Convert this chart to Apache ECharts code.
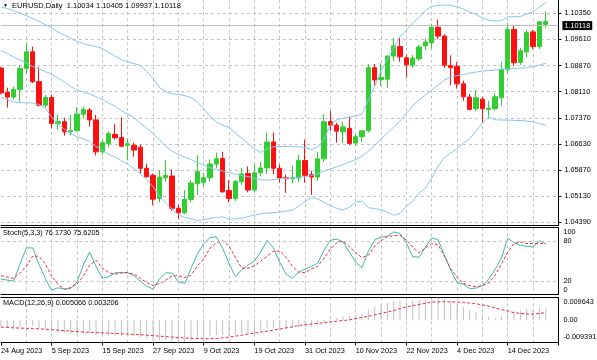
<!DOCTYPE html>
<html><head><meta charset="utf-8">
<script src="https://cdn.jsdelivr.net/npm/echarts@6/dist/echarts.min.js"></script>
<style>html,body{margin:0;padding:0;background:#fff}#c{width:597px;height:360px}</style>
</head><body><div id="c"></div>
<script>
const dates = ['24 Aug 2023','25 Aug 2023','28 Aug 2023','29 Aug 2023','30 Aug 2023','31 Aug 2023',
'1 Sep 2023','4 Sep 2023','5 Sep 2023','6 Sep 2023','7 Sep 2023','8 Sep 2023','11 Sep 2023','12 Sep 2023','13 Sep 2023','14 Sep 2023','15 Sep 2023','18 Sep 2023','19 Sep 2023','20 Sep 2023','21 Sep 2023','22 Sep 2023','25 Sep 2023','26 Sep 2023','27 Sep 2023','28 Sep 2023','29 Sep 2023',
'2 Oct 2023','3 Oct 2023','4 Oct 2023','5 Oct 2023','6 Oct 2023','9 Oct 2023','10 Oct 2023','11 Oct 2023','12 Oct 2023','13 Oct 2023','16 Oct 2023','17 Oct 2023','18 Oct 2023','19 Oct 2023','20 Oct 2023','23 Oct 2023','24 Oct 2023','25 Oct 2023','26 Oct 2023','27 Oct 2023','30 Oct 2023','31 Oct 2023',
'1 Nov 2023','2 Nov 2023','3 Nov 2023','6 Nov 2023','7 Nov 2023','8 Nov 2023','9 Nov 2023','10 Nov 2023','13 Nov 2023','14 Nov 2023','15 Nov 2023','16 Nov 2023','17 Nov 2023','20 Nov 2023','21 Nov 2023','22 Nov 2023','23 Nov 2023','24 Nov 2023','27 Nov 2023','28 Nov 2023','29 Nov 2023','30 Nov 2023',
'1 Dec 2023','4 Dec 2023','5 Dec 2023','6 Dec 2023','7 Dec 2023','8 Dec 2023','11 Dec 2023','12 Dec 2023','13 Dec 2023','14 Dec 2023','15 Dec 2023','18 Dec 2023','19 Dec 2023','20 Dec 2023','21 Dec 2023','22 Dec 2023'];

const open = [1.0879,1.0810,1.0796,1.0818,1.0878,1.0925,1.0840,1.0773,1.0795,1.0721,
1.0726,1.0697,1.0700,1.0747,1.0759,1.0731,1.0640,1.0663,1.0690,1.0681,
1.0659,1.0659,1.0653,1.0593,1.0573,1.0507,1.0566,1.0571,1.0479,1.0466,
1.0504,1.0549,1.0553,1.0566,1.0605,1.0621,1.0530,1.0507,1.0555,1.0578,
1.0531,1.0580,1.0594,1.0668,1.0593,1.0566,1.0563,1.0565,1.0615,1.0575,
1.0568,1.0620,1.0726,1.0716,1.0697,1.0707,1.0665,1.0683,1.0700,1.0880,
1.0846,1.0847,1.0913,1.0940,1.0908,1.0887,1.0905,1.0942,1.0951,1.0995,
1.0970,1.0886,1.0884,1.0834,1.0796,1.0763,1.0790,1.0761,1.0763,1.0794,
1.0875,1.0989,1.0895,1.0925,1.0982,1.0940,1.10034];
const high = [1.0882,1.0823,1.0826,1.0886,1.0951,1.0940,1.0882,1.0802,1.0803,1.0747,
1.0737,1.0745,1.0768,1.0769,1.0765,1.0745,1.0673,1.0698,1.0719,1.0738,
1.0678,1.0666,1.0660,1.0606,1.0578,1.0588,1.0616,1.0590,1.0489,1.0531,
1.0559,1.0630,1.0580,1.0618,1.0637,1.0640,1.0559,1.0560,1.0594,1.0598,
1.0606,1.0612,1.0695,1.0695,1.0604,1.0575,1.0600,1.0631,1.0675,1.0586,
1.0640,1.0748,1.0756,1.0723,1.0726,1.0740,1.0690,1.0702,1.0890,1.0891,
1.0893,1.0916,1.0965,1.0965,1.0916,1.0916,1.0945,1.0963,1.1005,1.1017,
1.0975,1.0915,1.0896,1.0843,1.0805,1.0816,1.0797,1.0785,1.0806,1.0896,
1.1008,1.1002,1.0937,1.0987,1.0988,1.1013,1.10405];
const low = [1.0804,1.0766,1.0790,1.0783,1.0862,1.0836,1.0769,1.0768,1.0707,1.0703,
1.0686,1.0687,1.0698,1.0735,1.0712,1.0630,1.0632,1.0653,1.0675,1.0653,
1.0616,1.0626,1.0578,1.0566,1.0488,1.0496,1.0555,1.0472,1.0448,1.0462,
1.0496,1.0517,1.0540,1.0555,1.0593,1.0523,1.0495,1.0500,1.0545,1.0524,
1.0525,1.0570,1.0577,1.0576,1.0553,1.0523,1.0550,1.0553,1.0552,1.0517,
1.0557,1.0611,1.0700,1.0666,1.0664,1.0659,1.0657,1.0669,1.0695,1.0827,
1.0828,1.0822,1.0898,1.0897,1.0852,1.0880,1.0900,1.0930,1.0935,1.0961,
1.0879,1.0830,1.0820,1.0786,1.0758,1.0756,1.0723,1.0737,1.0758,1.0772,
1.0863,1.0886,1.0888,1.0909,1.0933,1.0933,1.09937];
const close = [1.0808,1.0796,1.0818,1.0878,1.0925,1.0840,1.0773,1.0795,1.0721,1.0726,
1.0697,1.0700,1.0748,1.0761,1.0731,1.0640,1.0666,1.0692,1.0680,1.0656,
1.0663,1.0645,1.0593,1.0569,1.0505,1.0568,1.0573,1.0479,1.0466,1.0505,
1.0551,1.0583,1.0566,1.0605,1.0620,1.0526,1.0507,1.0555,1.0577,1.0531,
1.0580,1.0594,1.0668,1.0593,1.0565,1.0563,1.0566,1.0615,1.0573,1.0568,
1.0620,1.0726,1.0716,1.0699,1.0711,1.0664,1.0683,1.0700,1.0880,1.0845,
1.0852,1.0913,1.0942,1.0911,1.0888,1.0907,1.0939,1.0953,1.0995,1.0970,
1.0887,1.0880,1.0834,1.0797,1.0761,1.0794,1.0763,1.0764,1.0797,1.0875,
1.0989,1.0894,1.0928,1.0980,1.0940,1.1011,1.10118];

const bbUpper = [1.10533,1.10487,1.10425,1.10359,1.10279,1.10202,1.10116,1.10031,1.09931,1.09817,
1.09731,1.09637,1.09546,1.09489,1.09437,1.09403,1.09346,1.09232,1.09132,1.09032,
1.08961,1.08918,1.08861,1.08689,1.08490,1.08233,1.08119,1.08056,1.08033,1.08004,
1.07947,1.07819,1.07628,1.07419,1.07248,1.07162,1.07091,1.06934,1.06791,1.06635,
1.06492,1.06378,1.06492,1.06543,1.06555,1.06549,1.06549,1.06543,1.06520,1.06463,
1.06535,1.06763,1.07162,1.07319,1.07354,1.07391,1.07419,1.07476,1.07876,1.08276,
1.08704,1.09046,1.09360,1.09688,1.09874,1.10074,1.10231,1.10430,1.10550,1.10573,
1.10587,1.10582,1.10530,1.10473,1.10388,1.10316,1.10216,1.10151,1.10131,1.10139,
1.10253,1.10253,1.10253,1.10330,1.10396,1.10530,1.10653];
const bbMiddle = [1.09289,1.09203,1.09103,1.09018,1.08932,1.08832,1.08761,1.08689,1.08618,1.08504,
1.08390,1.08261,1.08161,1.08104,1.08047,1.07976,1.07890,1.07790,1.07705,1.07576,
1.07476,1.07377,1.07211,1.07080,1.06920,1.06749,1.06563,1.06420,1.06321,1.06249,
1.06178,1.06092,1.06021,1.05950,1.05892,1.05850,1.05807,1.05764,1.05721,1.05693,
1.05650,1.05607,1.05593,1.05607,1.05636,1.05641,1.05650,1.05670,1.05693,1.05721,
1.05778,1.05850,1.05907,1.05972,1.06035,1.06107,1.06178,1.06278,1.06420,1.06577,
1.06763,1.06934,1.07105,1.07277,1.07505,1.07705,1.07876,1.08019,1.08161,1.08304,
1.08447,1.08532,1.08575,1.08604,1.08647,1.08675,1.08704,1.08718,1.08732,1.08752,
1.08775,1.08781,1.08781,1.08804,1.08826,1.08875,1.08923];
const bbLower = [1.07962,1.07890,1.07819,1.07805,1.07799,1.07790,1.07748,1.07648,1.07391,1.07191,
1.07048,1.06934,1.06829,1.06763,1.06692,1.06555,1.06449,1.06326,1.06249,1.06149,
1.06049,1.05921,1.05778,1.05607,1.05407,1.05136,1.04936,1.04765,1.04608,1.04523,
1.04494,1.04437,1.04465,1.04500,1.04528,1.04545,1.04480,1.04488,1.04508,1.04551,
1.04594,1.04631,1.04651,1.04665,1.04680,1.04708,1.04737,1.04851,1.04979,1.05099,
1.05051,1.04965,1.04865,1.04794,1.04737,1.04822,1.04965,1.04993,1.04808,1.04779,
1.04751,1.04680,1.04594,1.04642,1.04851,1.04993,1.05222,1.05364,1.05650,1.05992,
1.06235,1.06363,1.06497,1.06649,1.06777,1.06991,1.07220,1.07399,1.07314,1.07305,
1.07305,1.07299,1.07291,1.07277,1.07257,1.07205,1.07162];

const stochMain = [23,21.5,20,45,69.6,69.6,45,24,6.5,10,
8,9,18.5,44,63.6,42,24,26.7,32.3,33,
32.6,28,20,12.5,8,23,32.3,32,19,16.5,
39.3,60,75.9,85,86,68.7,46.8,26.4,37,43.8,
49.8,63.2,81,70,48.3,30.4,24.4,33.4,38,41.6,
46.8,66,81,82.6,78.5,63.2,48.3,40,64.7,81.8,
85.5,87,93.4,91,76.6,56.5,55.7,70.6,84.5,81.8,
58.7,36.4,17.7,15.5,8.8,9.5,13.3,23,37,54.2,
84,77.3,73.6,71.7,71,80,76.173];
const stochSignal = [28.2,26,24,32,42.3,57.2,57.2,45.3,27.4,14.8,
8,10.3,15.5,27.4,43.8,51.3,39.5,32.6,30.4,32,
32.6,30.4,24.4,17.7,13.3,16.2,21.5,27.4,28.2,25.2,
28.9,42.3,52.8,69.2,77.3,80.3,72.1,55.7,39.3,39.3,
43,49.8,57.2,64.7,64.7,55.7,42.3,33.4,32.6,37.9,
42.3,54.2,67.7,77.3,79.6,71.4,62.4,55,58.7,72.1,
80.3,86.3,87.8,88.5,81,70.6,62.4,69.2,75.9,74.4,
57.2,38.6,25.9,16.5,13.3,11.5,13.3,17,28.9,45.3,
63.2,76.6,78.1,76.2,75.9,76.2,75.6205];
const stochLevels = [20, 80];

const macdMain = [-0.0028,-0.0033,-0.0035,-0.0030,-0.0022,-0.0023,-0.0032,-0.0037,-0.0045,-0.0050,
-0.0055,-0.0058,-0.0057,-0.0055,-0.0055,-0.0063,-0.0066,-0.0066,-0.0066,-0.0067,
-0.0067,-0.0068,-0.0072,-0.0077,-0.0085,-0.0085,-0.0084,-0.0091,-0.009391,-0.0092,
-0.0086,-0.0079,-0.0075,-0.0068,-0.0061,-0.0063,-0.0066,-0.0063,-0.0058,-0.0057,
-0.0051,-0.0045,-0.0035,-0.0034,-0.0035,-0.0035,-0.0034,-0.0029,-0.0028,-0.0027,
-0.0022,-0.0008,0.0003,0.0010,0.0017,0.0019,0.0022,0.0025,0.0045,0.0057,
0.0064,0.0073,0.0081,0.0083,0.0082,0.0083,0.0086,0.0088,0.0094,0.009643,
0.0089,0.0082,0.0071,0.0058,0.0043,0.0034,0.0023,0.0015,0.0011,0.0017,
0.0036,0.0038,0.0041,0.0047,0.0047,0.0052,0.005066];
const macdSignal = [-0.0029,-0.0030,-0.0032,-0.0033,-0.0034,-0.0035,-0.0036,-0.0038,-0.0040,-0.0042,
-0.0044,-0.0046,-0.0048,-0.0050,-0.0051,-0.0052,-0.0053,-0.0054,-0.0056,-0.0057,
-0.0058,-0.0060,-0.0061,-0.0063,-0.0065,-0.0067,-0.0069,-0.0071,-0.0073,-0.0075,
-0.0076,-0.0077,-0.0078,-0.0078,-0.0077,-0.0074,-0.0071,-0.0067,-0.0063,-0.0058,
-0.0054,-0.0050,-0.0046,-0.0041,-0.0037,-0.0032,-0.0028,-0.0022,-0.0019,-0.0016,
-0.0013,-0.0010,-0.0007,-0.0004,-0.0001,0.0002,0.0007,0.0012,0.0017,0.0023,
0.0029,0.0035,0.0041,0.0050,0.0056,0.0062,0.0067,0.0072,0.0077,0.0078,
0.0079,0.0078,0.0077,0.0075,0.0073,0.0070,0.0065,0.0060,0.0052,0.0045,
0.0040,0.0032,0.0029,0.0027,0.0026,0.0029,0.003206];

const priceTicks = ['1.04390','1.05130','1.05870','1.06630','1.07370','1.08110','1.08870','1.09610','1.10350'];
const priceMin = 1.0439, priceStep = 0.00745;
const macdMin = -0.009391, macdMax = 0.009643;

const FONT = 'Liberation Sans', FS = 7.3;
const GREEN = '#32cd32', RED = '#ff1010', BB = '#87c8ea', GRIDC = '#c4c4c4';
const L = 1, W = 557.4;
const cats = dates.concat(['', '']);
const n = dates.length;
const candleData = open.map((o, i) => [o, close[i], low[i], high[i]]);
const txt = {fontFamily: FONT, fontSize: FS, color: '#000'};

function xAx(grid, pos, extra) {
  return Object.assign({
    type: 'category', gridIndex: grid, position: pos, data: cats, boundaryGap: false,
    axisLine: {show: true, onZero: false, lineStyle: {color: '#000', width: 1}},
    axisTick: {show: false}, axisLabel: {show: false}, splitLine: {show: false}
  }, extra || {});
}
const vSplit = {show: true, interval: (i) => i > 0 && i % 4 === 0, lineStyle: {color: GRIDC, width: 1, type: [3, 3]}};

const chart = echarts.init(document.getElementById('c'), null, {renderer: 'canvas'});
const last = n - 1;
chart.setOption({
  animation: false,
  backgroundColor: '#fff',
  title: [
    {left: 3, top: 2, padding: 0,
     text: '{t|\u25BC}  EURUSD,Daily  ' + open[last].toFixed(5) + ' ' + high[last].toFixed(5) + ' ' + low[last].toFixed(5) + ' ' + close[last].toFixed(5),
     textStyle: Object.assign({fontWeight: 'normal', rich: {t: {fontSize: 5, fontFamily: FONT, color: '#000'}}}, txt, {fontSize: 7.5})},
    {left: 3, top: 229, padding: 0,
     text: 'Stoch(5,3,3) ' + stochMain[last].toFixed(4) + ' ' + stochSignal[last].toFixed(4),
     textStyle: Object.assign({fontWeight: 'normal'}, txt)},
    {left: 3, top: 299.5, padding: 0,
     text: 'MACD(12,26,9) ' + macdMain[last].toFixed(6) + ' ' + macdSignal[last].toFixed(6),
     textStyle: Object.assign({fontWeight: 'normal'}, txt)}
  ],
  grid: [
    {left: L, width: W, top: 0, height: 225.5, containLabel: false, outerBoundsMode: 'none'},
    {left: L, width: W, top: 13.3, height: 209, containLabel: false, outerBoundsMode: 'none'},
    {left: L, width: W, top: 227.5, height: 67, containLabel: false, outerBoundsMode: 'none'},
    {left: L, width: W, top: 297.5, height: 45, containLabel: false, outerBoundsMode: 'none'}
  ],
  xAxis: [
    xAx(0, 'bottom', {splitLine: vSplit}),
    xAx(1, 'bottom', {show: false}),
    xAx(2, 'bottom', {splitLine: vSplit}),
    xAx(2, 'top'),
    xAx(3, 'bottom', {splitLine: vSplit,
      axisTick: {show: true, interval: 7, length: 3, lineStyle: {color: '#000'}},
      axisLabel: Object.assign({show: true, interval: 7, align: 'left', margin: 4.5, formatter: (v) => v}, txt)}),
    xAx(3, 'top')
  ],
  yAxis: [
    {type: 'value', gridIndex: 0, position: 'right', min: 0, max: 1,
     axisLine: {show: true, lineStyle: {color: '#000'}}, axisTick: {show: false}, axisLabel: {show: false}, splitLine: {show: false}},
    {type: 'value', gridIndex: 1, position: 'right', min: priceMin, max: priceMin + 8 * priceStep, interval: priceStep,
     axisLine: {show: false}, axisTick: {show: true, length: 3, lineStyle: {color: '#000'}},
     axisLabel: Object.assign({show: true, margin: 6, align: 'left', formatter: (v) => {
       const k = Math.round((v - priceMin) / priceStep); return priceTicks[k] || ''; }}, txt),
     splitLine: {show: true, lineStyle: {color: GRIDC, width: 1, type: [3, 3]}}},
    {type: 'value', gridIndex: 2, position: 'right', min: 0, max: 100, interval: 20,
     axisLine: {show: true, lineStyle: {color: '#000'}}, axisTick: {show: false},
     axisLabel: Object.assign({show: true, margin: 5, align: 'left', formatter: (v) => {
       if (v === 100) return '{t|100}'; if (v === 0) return '{b|0}';
       if (v === 80 || v === 20) return String(v); return ''; },
       rich: {t: {fontFamily: FONT, fontSize: FS, color: '#000', padding: [8.5, 0, 0, 0]},
              b: {fontFamily: FONT, fontSize: FS, color: '#000', padding: [0, 0, 9, 0]}}}, txt),
     splitLine: {show: false}},
    {type: 'value', gridIndex: 3, position: 'right', min: macdMin, max: macdMax, interval: -macdMin,
     axisLine: {show: true, lineStyle: {color: '#000'}}, axisTick: {show: false},
     axisLabel: Object.assign({show: true, margin: 5, align: 'left', formatter: (v) => {
       if (Math.abs(v - macdMin) < 1e-9) return '{b|' + macdMin.toFixed(6) + '}';
       if (Math.abs(v) < 1e-9) return '0.00';
       if (Math.abs(v + macdMin) < 1e-9) return '{t|' + macdMax.toFixed(6) + '}';
       return ''; },
       rich: {t: {fontFamily: FONT, fontSize: FS, color: '#000', padding: [8.5, 0, 0, 0]},
              b: {fontFamily: FONT, fontSize: FS, color: '#000', padding: [0, 0, 11, 0]}}}, txt),
     splitLine: {show: false}}
  ],
  series: [
    {type: 'candlestick', xAxisIndex: 1, yAxisIndex: 1, data: candleData, barWidth: 5, clip: false, silent: true,
     itemStyle: {color: GREEN, color0: RED, borderColor: GREEN, borderColor0: RED, borderWidth: 1},
     markLine: {silent: true, symbol: ['none', 'none'], animation: false,
       data: [{yAxis: close[last]}],
       lineStyle: {color: '#c0c0c0', type: 'solid', width: 1},
       label: Object.assign({show: true, position: 'end', distance: 4, formatter: close[last].toFixed(5),
         backgroundColor: '#000', padding: [1, 2, 1, 2]}, txt, {color: '#fff'})}},
    {type: 'line', xAxisIndex: 1, yAxisIndex: 1, data: bbUpper, symbol: 'none', clip: false, silent: true, lineStyle: {color: BB, width: 1}},
    {type: 'line', xAxisIndex: 1, yAxisIndex: 1, data: bbMiddle, symbol: 'none', clip: false, silent: true, lineStyle: {color: BB, width: 1}},
    {type: 'line', xAxisIndex: 1, yAxisIndex: 1, data: bbLower, symbol: 'none', clip: false, silent: true, lineStyle: {color: BB, width: 1}},
    {type: 'line', xAxisIndex: 2, yAxisIndex: 2, data: stochMain, symbol: 'none', silent: true, lineStyle: {color: '#3fb8aa', width: 1},
     markLine: {silent: true, symbol: ['none', 'none'], label: {show: false},
       data: stochLevels.map((v) => ({yAxis: v})), lineStyle: {color: GRIDC, width: 1, type: [3, 3]}}},
    {type: 'line', xAxisIndex: 2, yAxisIndex: 2, data: stochSignal, symbol: 'none', silent: true, lineStyle: {color: '#e8303c', width: 1, type: [3, 2]}},
    {type: 'bar', xAxisIndex: 4, yAxisIndex: 3, data: macdMain, barWidth: 1, silent: true, itemStyle: {color: '#c0c0c0'}},
    {type: 'line', xAxisIndex: 4, yAxisIndex: 3, data: macdSignal, symbol: 'none', silent: true, lineStyle: {color: '#e8303c', width: 1, type: [3, 2]}}
  ]
});
</script></body></html>
